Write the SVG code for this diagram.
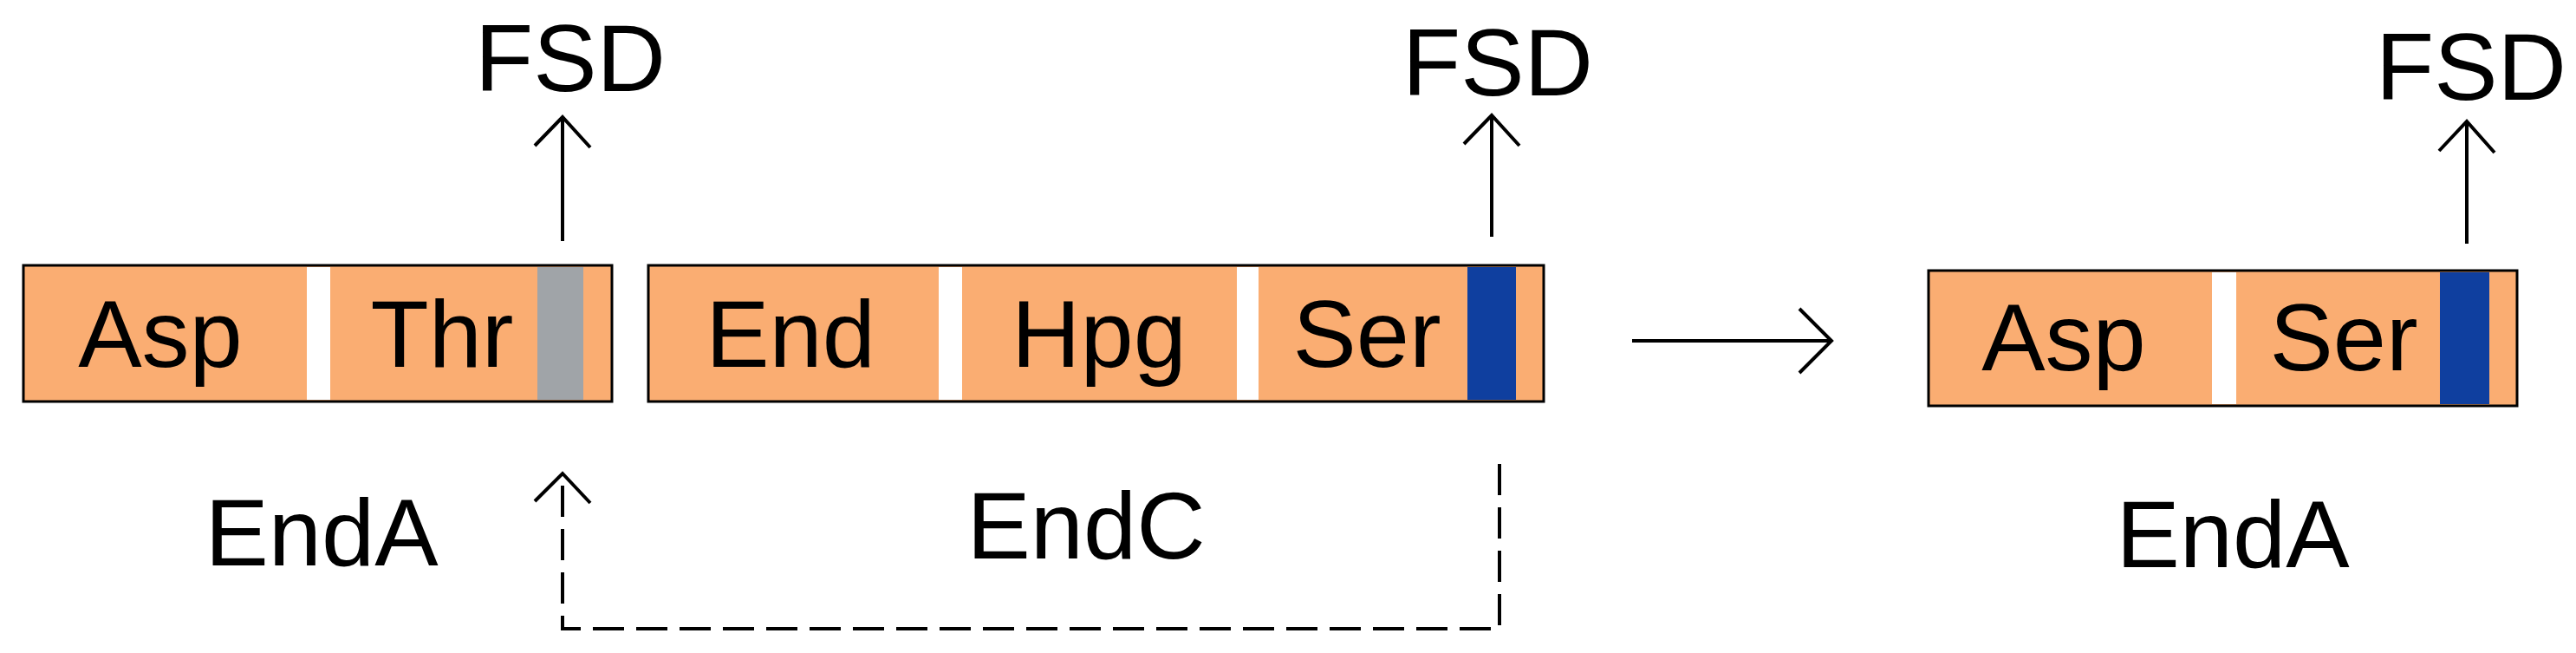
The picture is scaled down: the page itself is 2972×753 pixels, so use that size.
<svg xmlns="http://www.w3.org/2000/svg" width="2972" height="753" viewBox="0 0 2972 753">
<style>
.bx{fill:#FAAD72;stroke:#000;stroke-width:3}
.gap{fill:#fff}
.t{font-family:"Liberation Sans",Arial,sans-serif;font-size:110px;fill:#000;text-anchor:middle}
.ln{stroke:#000;stroke-width:4;fill:none}
.ds{stroke:#000;stroke-width:4;fill:none;stroke-dasharray:36 14}
</style>
<rect width="2972" height="753" fill="#fff"/>
<g id="endA1">
<rect class="bx" x="27" y="306" width="679" height="157"/>
<rect class="gap" x="354" y="308" width="27" height="153"/>
<rect fill="#A0A4A8" x="620" y="308" width="53" height="153"/>
<text class="t" x="185" y="423">Asp</text>
<text class="t" x="510" y="423">Thr</text>
</g>
<g id="endC">
<rect class="bx" x="748" y="306" width="1033" height="157"/>
<rect class="gap" x="1083" y="308" width="27" height="153"/>
<rect class="gap" x="1427" y="308" width="25" height="153"/>
<rect fill="#0F3F9F" x="1693" y="308" width="56" height="153"/>
<text class="t" x="912" y="423">End</text>
<text class="t" x="1268" y="423">Hpg</text>
<text class="t" x="1577" y="423">Ser</text>
</g>
<g id="endA2">
<rect class="bx" x="2225" y="312" width="679" height="156"/>
<rect class="gap" x="2552" y="314" width="28" height="152"/>
<rect fill="#0F3F9F" x="2815" y="314" width="57" height="152"/>
<text class="t" x="2381" y="427">Asp</text>
<text class="t" x="2704" y="427">Ser</text>
</g>
<g id="labels">
<text class="t" x="658" y="105">FSD</text>
<text class="t" x="1728" y="110">FSD</text>
<text class="t" x="2851" y="115">FSD</text>
<text class="t" x="371" y="652">EndA</text>
<text class="t" x="1253" y="644">EndC</text>
<text class="t" x="2576" y="654">EndA</text>
</g>
<g id="connectors">
<path class="ln" d="M649 278V135M617 168L649 135L681 170"/>
<path class="ln" d="M1721 273V133M1689 166L1721 133L1753 168"/>
<path class="ln" d="M2846 281V140M2814 174L2846 140L2878 176"/>
<path class="ln" d="M1883 393H2113M2076 356L2113 393L2076 430"/>
<path class="ds" d="M1730 535V725H649V547"/>
<path class="ln" d="M617 578L649 546L681 580"/>
</g>
</svg>
